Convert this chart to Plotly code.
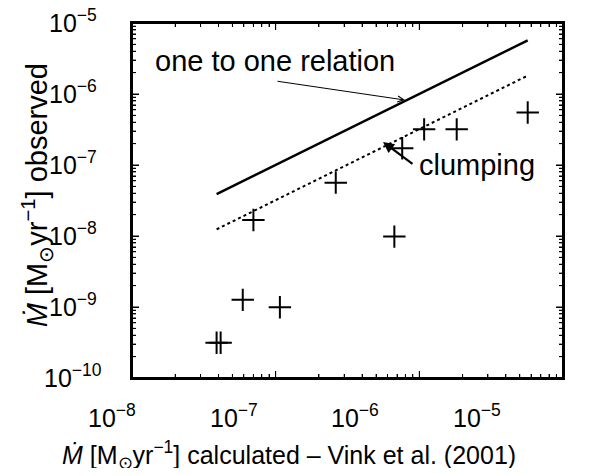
import numpy as np
import plotly.graph_objects as go

# Data
mdot_calc = [3.88e-8, 4.14e-8, 5.9e-8, 7.0e-8, 1.07e-7, 2.62e-7, 6.7e-7, 7.6e-7, 1.08e-6, 1.82e-6, 5.68e-6]
mdot_obs = [3.14e-10, 3.14e-10, 1.26e-9, 1.68e-8, 9.9e-10, 5.64e-8, 9.8e-9, 1.72e-7, 3.18e-7, 3.18e-7, 5.5e-7]
line_x = [3.88e-8, 5.68e-6]
clump_factor = 0.32
x_ticks = [1e-8, 1e-7, 1e-6, 1e-5]
x_tick_text = ["10<sup>−8</sup>", "10<sup>−7</sup>", "10<sup>−6</sup>", "10<sup>−5</sup>"]
y_ticks = [1e-10, 1e-9, 1e-8, 1e-7, 1e-6, 1e-5]
y_tick_text = ["10<sup>−10</sup>", "10<sup>−9</sup>", "10<sup>−8</sup>", "10<sup>−7</sup>", "10<sup>−6</sup>", "10<sup>−5</sup>"]
x_range = [-8, -5]
y_range = [-10, -5]

x_minor = [m * t for t in x_ticks[:-1] for m in range(2, 10)]
y_minor = [m * t for t in y_ticks[:-1] for m in range(2, 10)]

FONT = "Liberation Sans, Arial, sans-serif"
fig = go.Figure()
fig.add_trace(go.Scatter(x=line_x, y=line_x, mode="lines",
                         line=dict(color="black", width=2.5), showlegend=False))
fig.add_trace(go.Scatter(x=line_x, y=[v * clump_factor for v in line_x], mode="lines",
                         line=dict(color="black", width=2, dash="dot"), showlegend=False))
fig.add_trace(go.Scatter(x=mdot_calc, y=mdot_obs, mode="markers",
                         marker=dict(symbol="cross-thin", size=16,
                                     line=dict(color="black", width=2)),
                         showlegend=False))


def axis_style(vals, minor_vals, rng):
    return dict(type="log", range=rng, showgrid=False,
                showline=True, mirror="ticks", linecolor="black", linewidth=2,
                ticks="inside", ticklen=7, tickcolor="black",
                tickmode="array", tickvals=vals, ticktext=[""] * len(vals),
                minor=dict(ticks="inside", ticklen=4, tickcolor="black",
                           tickmode="array", tickvals=minor_vals))


fig.update_layout(xaxis=axis_style(x_ticks, x_minor, x_range),
                  yaxis=axis_style(y_ticks, y_minor, y_range))

# plot frame and inside ticks on all four sides (drawn as paper-referenced shapes)
shapes = [dict(type="rect", xref="paper", yref="paper", x0=0, x1=1, y0=0, y1=1,
               line=dict(color="black", width=2), fillcolor="rgba(0,0,0,0)", layer="above")]
PLOT_W, PLOT_H = 431, 355


def frac(v, rng):
    return (np.log10(v) - rng[0]) / (rng[1] - rng[0])


for vals, length in ((x_ticks, 7), (x_minor, 4)):
    h = length / PLOT_H
    for v in vals:
        p = frac(v, x_range)
        shapes.append(dict(type="line", xref="paper", yref="paper", x0=p, x1=p, y0=0, y1=h,
                           line=dict(color="black", width=1), layer="above"))
        shapes.append(dict(type="line", xref="paper", yref="paper", x0=p, x1=p, y0=1, y1=1 - h,
                           line=dict(color="black", width=1), layer="above"))
for vals, length in ((y_ticks, 7), (y_minor, 4)):
    w = length / PLOT_W
    for v in vals:
        p = frac(v, y_range)
        shapes.append(dict(type="line", xref="paper", yref="paper", x0=0, x1=w, y0=p, y1=p,
                           line=dict(color="black", width=1), layer="above"))
        shapes.append(dict(type="line", xref="paper", yref="paper", x0=1, x1=1 - w, y0=p, y1=p,
                           line=dict(color="black", width=1), layer="above"))

ann = []
for k, (t, txt) in enumerate(zip(x_ticks, x_tick_text)):
    ann.append(dict(x=np.log10(t), y=0, xref="x", yref="paper", text=txt,
                    showarrow=False, xanchor="center", yanchor="top",
                    xshift=-20 - 22 * k, yshift=-20,
                    font=dict(family=FONT, size=25, color="black")))
for t, txt in zip(y_ticks, y_tick_text):
    ann.append(dict(x=-0.1276, y=np.log10(t), xref="paper", yref="y", text=txt,
                    showarrow=False, xanchor="center", yanchor="middle", yshift=2,
                    xshift=-4,
                    font=dict(family=FONT, size=25, color="black")))

ann.append(dict(x=0.3735, y=-0.217, xref="paper", yref="paper", xshift=-4,
                text="<i>Ṁ</i> [M<sub>⊙</sub>yr<sup>−1</sup>] calculated – Vink et al. (2001)",
                showarrow=False, xanchor="center", yanchor="middle",
                font=dict(family=FONT, size=25, color="black")))
ann.append(dict(x=-0.2204, y=0.515, xref="paper", yref="paper",
                text="<i>Ṁ</i> [M<sub>⊙</sub>yr<sup>−1</sup>] observed",
                textangle=-90, showarrow=False, xanchor="center", yanchor="middle",
                font=dict(family=FONT, size=29, color="black")))

ann.append(dict(x=0.332, y=0.893, xref="paper", yref="paper", text="one to one relation",
                showarrow=False, xanchor="center", yanchor="middle",
                font=dict(family=FONT, size=29, color="black")))
ann.append(dict(x=0.8016, y=0.6, xref="paper", yref="paper", text="clumping",
                showarrow=False, xanchor="center", yanchor="middle",
                font=dict(family=FONT, size=29, color="black")))
# arrows
ann.append(dict(x=-6.10, y=-6.085, xref="x", yref="y", text="", showarrow=True,
                ax=-129, ay=-19, arrowhead=5, arrowsize=1.2, arrowwidth=1,
                arrowcolor="black", standoff=0))
ann.append(dict(x=-6.253, y=-6.676, xref="x", yref="y", text="", showarrow=True,
                ax=31, ay=23, arrowhead=2, arrowsize=1, arrowwidth=2.2,
                arrowcolor="black", standoff=0))

# page body has an 8px margin, so the figure is 600x460 inside the 616x476 window
fig.update_layout(width=600, height=460, margin=dict(l=124, r=45, t=15, b=90),
                  plot_bgcolor="white", paper_bgcolor="white", annotations=ann,
                  shapes=shapes)
fig.write_html("out.html")
